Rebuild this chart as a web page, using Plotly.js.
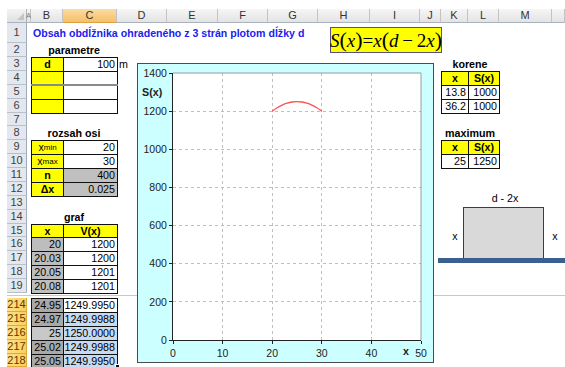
<!DOCTYPE html>
<html>
<head>
<meta charset="utf-8">
<script src="https://cdn.plot.ly/plotly-3.0.1.min.js"></script>
<style>
  html, body { margin: 0; padding: 0; }
  body { width: 565px; height: 367px; overflow: hidden; background: #fff; position: relative;
         font-family: Arial, "Liberation Sans", sans-serif; }
  #sheet { position: absolute; left: 0; top: 0; width: 565px; height: 367px; }
  .c { position: absolute; box-sizing: border-box; font-size: 10.7px; line-height: 1;
       display: flex; align-items: center; white-space: nowrap; overflow: visible; color: #000; }
  .c sub { font-size: 8px; vertical-align: -2px; line-height: 1; }
  #chartbox { position: absolute; left: 137px; top: 63px; width: 297px; height: 300px;
              box-sizing: border-box; border: 1px solid #4a4a4a; background: #ccffff; }
  #chart { position: absolute; left: 0; top: 0; width: 295px; height: 298px; }
</style>
</head>
<body>
<div id="sheet"></div>
<div id="chartbox"><div id="chart"></div></div>
<script>
// ---- sheet contents ----
const columnLetters = ['A', 'B', 'C', 'D', 'E', 'F', 'G', 'H', 'I', 'J', 'K', 'L', 'M', ''];
const visibleRows = [1, 2, 3, 4, 5, 6, 7, 8, 9, 10, 11, 12, 13, 14, 15, 16, 17, 18, 19, 214, 215, 216, 217, 218];
const selectedRows = [214, 215, 216, 217, 218];

const titleText = 'Obsah obdĺžnika ohradeného z 3 strán plotom dĺžky d';
const paramLabels = ['d', '', '', ''];
const paramValues = ['100', '', '', ''];
const paramUnit = 'm';
const axisLabels = ['x<sub>min</sub>', 'x<sub>max</sub>', 'n', 'Δx'];
const axisValues = ['20', '30', '400', '0.025'];
const grafRowNumbers = [16, 17, 18, 19, 214, 215, 216, 217, 218];
const grafX = ['20', '20.03', '20.05', '20.08', '24.95', '24.97', '25', '25.02', '25.05'];
const grafV = ['1200', '1200', '1201', '1201', '1249.9950', '1249.9988', '1250.0000', '1249.9988', '1249.9950'];
const rootX = ['13.8', '36.2'];
const rootS = ['1000', '1000'];
const maxX = ['25'];
const maxS = ['1250'];

// ---- chart series: S(x) over the axis range x from 20 to 30 ----
const curveX = [20, 21, 22, 23, 24, 25, 26, 27, 28, 29, 30];
const curveS = [1200, 1218, 1232, 1242, 1248, 1250, 1248, 1242, 1232, 1218, 1200];
const xTickVals = [0, 10, 20, 30, 40, 50];
const yTickVals = [0, 200, 400, 600, 800, 1000, 1200, 1400];

// ---- sheet geometry ----
const colEdges = [27, 31, 63, 117, 167, 218, 268, 318, 370, 420, 441, 468, 499, 552, 600];
function colX(letter) { return colEdges[columnLetters.indexOf(letter)]; }
function colX1(letter) { return colEdges[columnLetters.indexOf(letter) + 1]; }
const ROW_H = 13.875;
function rowTop(r) {
  if (r === 1) return 23;
  if (r <= 19) return 57 + (r - 3) * ROW_H;
  return 298 + (r - 214) * ROW_H;
}
function rowBot(r) { return r === 1 ? 43 : rowTop(r) + ROW_H; }

const sheet = document.getElementById('sheet');
function box(x0, y0, x1, y1, style, html) {
  const d = document.createElement('div');
  d.className = 'c';
  x0 = Math.round(x0); y0 = Math.round(y0); x1 = Math.round(x1); y1 = Math.round(y1);
  d.style.left = x0 + 'px'; d.style.top = y0 + 'px';
  d.style.width = (x1 - x0) + 'px'; d.style.height = (y1 - y0) + 'px';
  Object.assign(d.style, style || {});
  if (html != null) d.innerHTML = html;
  sheet.appendChild(d);
  return d;
}
// bordered table cell (borders of neighbours overlap)
function cell(colLetter, r, html, opts) {
  opts = opts || {};
  const st = {
    border: '1px solid #111',
    background: opts.bg || '#fff',
    justifyContent: opts.align === 'right' ? 'flex-end' : (opts.align === 'left' ? 'flex-start' : 'center'),
    paddingRight: opts.align === 'right' ? '2px' : '0',
    fontWeight: opts.bold ? 'bold' : 'normal'
  };
  if (opts.border) st.border = opts.border;
  return box(colX(colLetter), rowTop(r), colX1(colLetter) + 1, rowBot(r) + 1, st, html);
}
function label(x0, x1, r, html, opts) {
  opts = opts || {};
  return box(x0, rowTop(r), x1, rowBot(r), {
    justifyContent: opts.align || 'center', fontWeight: opts.bold ? 'bold' : 'normal',
    color: opts.color || '#000', fontSize: opts.size || '10.7px'
  }, html);
}

// column header band
box(7, 9, 565, 23, { background: 'linear-gradient(#f6f6f6,#e3e3e3)', borderBottom: '1px solid #a9b3bf' });
box(7, 9, 27, 23, { background: 'linear-gradient(#f3f3f3,#e1e1e1)', borderRight: '1px solid #b0b0b0', borderBottom: '1px solid #a9b3bf' },
    '<div style="position:absolute;right:2px;bottom:2px;width:0;height:0;border-left:7px solid transparent;border-bottom:7px solid #c4c4c4"></div>');
columnLetters.forEach((L, i) => {
  const x0 = colEdges[i], x1 = Math.min(colEdges[i + 1], 565);
  const sel = (L === 'C');
  const narrow = (x1 - x0) < 8;
  box(x0, 9, x1, 23, {
    background: sel ? 'linear-gradient(#fbdca0,#f4c06a)' : 'transparent',
    borderRight: '1px solid #c3c3c3', borderBottom: sel ? '1px solid #e0a040' : '1px solid #a9b3bf',
    justifyContent: 'center', color: narrow ? '#777' : '#333', fontSize: narrow ? '7px' : '11px'
  }, L);
});

// row header column
visibleRows.forEach(r => {
  const sel = selectedRows.indexOf(r) >= 0;
  box(7, rowTop(r), 27, rowBot(r), {
    background: sel ? 'linear-gradient(90deg,#ffe08a,#fbcf5c)' : '#e4e8ee',
    borderBottom: '1px solid ' + (sel ? '#e3a935' : '#b8c0cc'),
    borderRight: '1px solid ' + (sel ? '#e3a935' : '#9eabbc'),
    justifyContent: 'center', color: sel ? '#5a3c00' : '#404040', fontSize: '11px'
  }, String(r));
});
// frozen pane split between row 19 and row 214
box(0, rowBot(19) + 0.5, 565, rowTop(214), { background: '#fff' });
box(7, rowBot(19) + 2, 565, rowBot(19) + 3, { background: '#c9c9c9' });

// title and formula
box(33, 23, 320, 43, { fontWeight: 'bold', color: '#1c1cf0', fontSize: '10.6px' }, titleText);
box(330, 27, 442, 53, {
  background: '#ffff00', border: '1px solid #55557a', justifyContent: 'center',
  fontFamily: '"Liberation Serif","Times New Roman",serif', fontSize: '19px', color: '#000'
}, '<i>S</i><span style="font-size:22px">(</span><i>x</i><span style="font-size:22px">)</span>=<i>x</i><span style="font-size:22px">(</span><i>d</i>&thinsp;−&thinsp;2<i>x</i><span style="font-size:22px">)</span>');

// parametre
label(colX('B'), colX1('C'), 2, 'parametre', { bold: true });
paramLabels.forEach((t, i) => {
  cell('B', 3 + i, t, { bg: '#ffff00', bold: true });
  cell('C', 3 + i, paramValues[i], { align: 'right' });
});
box(colX('B'), rowBot(4) - 0.5, colX1('C') + 1, rowBot(4) + 1.5, { background: '#8a8a8a' });
label(colX1('C') + 2, colX1('C') + 20, 3, paramUnit, { align: 'flex-start' });

// rozsah osi
label(colX('B'), colX1('C'), 8, 'rozsah osi', { bold: true });
axisLabels.forEach((t, i) => {
  cell('B', 9 + i, t, { bg: '#ffff00', bold: i >= 2 });
  cell('C', 9 + i, axisValues[i], { align: 'right', bg: i >= 2 ? '#c0c0c0' : '#fff' });
});

// graf
label(colX('B'), colX1('C'), 14, 'graf', { bold: true });
cell('B', 15, 'x', { bg: '#ffff00', bold: true });
cell('C', 15, 'V(x)', { bg: '#ffff00', bold: true });
grafRowNumbers.forEach((r, i) => {
  const lower = r >= 214;
  const bBg = !lower ? '#bdbdbd' : (r === 216 ? '#c8c8c8' : '#a9a9a9');
  cell('B', r, grafX[i], { align: 'right', bg: bBg });
  const cBg = (lower && r !== 214) ? '#c6daf3' : '#fff';
  cell('C', r, grafV[i], { align: 'right', bg: cBg });
});
// fill handle of the selection
box(colX1('C') - 2, rowBot(218) - 3, colX1('C') + 3, rowBot(218) + 2, { background: '#111', border: '1px solid #fff' });

// korene
label(colX('K'), colX1('L'), 3, 'korene', { bold: true });
cell('K', 4, 'x', { bg: '#ffff00', bold: true });
cell('L', 4, 'S(x)', { bg: '#ffff00', bold: true });
rootX.forEach((v, i) => {
  cell('K', 5 + i, v, { align: 'right' });
  cell('L', 5 + i, rootS[i], { align: 'right' });
});

// maximum
label(colX('K'), colX1('L'), 8, 'maximum', { bold: true });
cell('K', 9, 'x', { bg: '#ffff00', bold: true });
cell('L', 9, 'S(x)', { bg: '#ffff00', bold: true });
maxX.forEach((v, i) => {
  cell('K', 10 + i, v, { align: 'right' });
  cell('L', 10 + i, maxS[i], { align: 'right' });
});

// sketch of the fenced rectangle next to the wall
box(463, 207, 544, 261, { background: '#d9d9d9', border: '1px solid #3c3c3c' });
box(438, 258, 565, 263, { background: '#3b5f8e' });
box(480, 191, 530, 205, { justifyContent: 'center' }, 'd - 2x');
box(449, 229, 461, 243, { justifyContent: 'center' }, 'x');
box(549, 229, 561, 243, { justifyContent: 'center' }, 'x');

// ---- chart ----
const axisFont = { family: 'Arial, "Liberation Sans", sans-serif', size: 10.5, color: '#222' };
const layout = {
  width: 295, height: 298,
  margin: { l: 35, r: 12, t: 9, b: 22, pad: 0 },
  paper_bgcolor: '#ccffff', plot_bgcolor: '#ffffff',
  showlegend: false,
  xaxis: {
    range: [0, 50], tickvals: xTickVals, ticktext: xTickVals.map(String),
    showgrid: true, gridcolor: '#bfbfbf', griddash: 'dot', gridwidth: 1,
    zeroline: false, showline: true, linecolor: '#222', linewidth: 1,
    ticks: 'outside', ticklen: 3, tickcolor: '#222', tickfont: axisFont, fixedrange: true
  },
  yaxis: {
    range: [0, 1400], tickvals: yTickVals, ticktext: yTickVals.map(String),
    showgrid: true, gridcolor: '#bfbfbf', griddash: 'dot', gridwidth: 1,
    zeroline: false, showline: true, linecolor: '#222', linewidth: 1,
    ticks: 'outside', ticklen: 3, tickcolor: '#222', tickfont: axisFont, fixedrange: true
  },
  shapes: [
    { type: 'line', xref: 'paper', yref: 'paper', x0: 0, x1: 1, y0: 1, y1: 1, line: { color: '#9a9a9a', width: 1 } },
    { type: 'line', xref: 'paper', yref: 'paper', x0: 1, x1: 1, y0: 0, y1: 1, line: { color: '#9a9a9a', width: 1 } }
  ],
  annotations: [
    { text: '<b>S(x)</b>', xref: 'paper', yref: 'paper', x: -0.082, y: 0.93,
      xanchor: 'center', yanchor: 'middle', showarrow: false,
      font: { family: axisFont.family, size: 10.7, color: '#222' } },
    { text: '<b>x</b>', xref: 'paper', yref: 'paper', x: 0.94, y: -0.042,
      xanchor: 'center', yanchor: 'middle', showarrow: false,
      font: { family: axisFont.family, size: 10.7, color: '#222' } }
  ]
};
Plotly.newPlot('chart', [{
  x: curveX, y: curveS, type: 'scatter', mode: 'lines',
  line: { color: '#ff4f4f', width: 1.3, shape: 'spline' }, hoverinfo: 'skip'
}], layout, { staticPlot: true, displayModeBar: false });
</script>
</body>
</html>
